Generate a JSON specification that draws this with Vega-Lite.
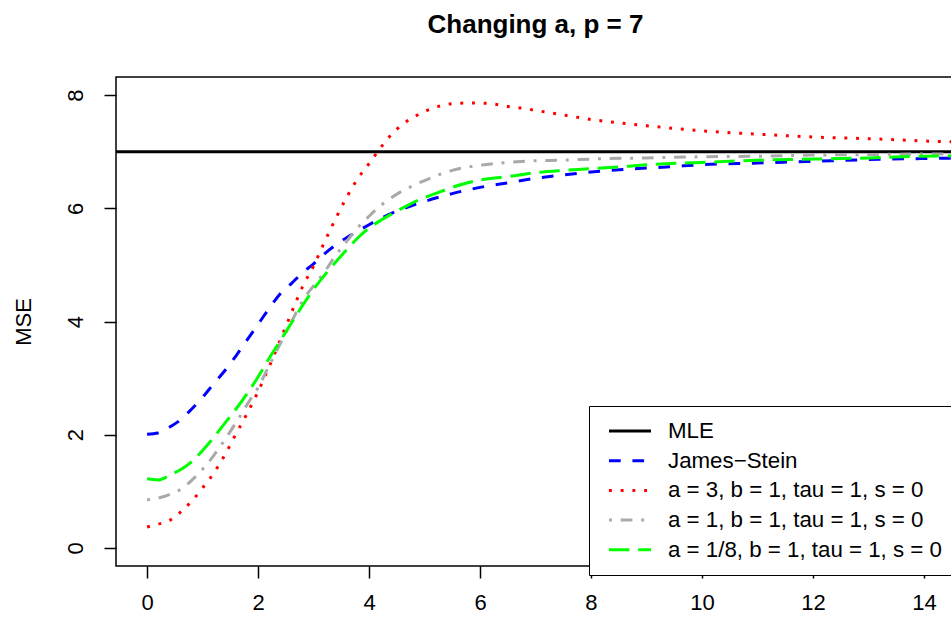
{
  "$schema": "https://vega.github.io/schema/vega-lite/v6.json",
  "width": 839,
  "height": 489,
  "autosize": {"type": "none"},
  "padding": {"left": 116, "top": 77, "right": 0, "bottom": 53},
  "background": "white",
  "title": {"text": "Changing a, p = 7", "font": "Liberation Sans", "fontSize": 26, "fontWeight": "bold", "color": "black", "anchor": "middle", "offset": 39},
  "config": {
    "view": {"stroke": "black", "strokeWidth": 1.5},
    "axis": {"grid": false, "domain": false, "tickColor": "black", "tickWidth": 1.5, "tickSize": 12, "labelFont": "Liberation Sans", "labelFontSize": 22, "labelColor": "black", "titleFont": "Liberation Sans", "titleFontSize": 22, "titleFontWeight": "normal", "titleColor": "black"},
    "legend": {"title": null, "orient": "none", "legendX": 473, "legendY": 329, "symbolType": "M-2,0L2,0", "symbolSize": 441, "symbolStrokeWidth": 3, "symbolOffset": 16, "labelFont": "Liberation Sans", "labelFontSize": 22.3, "labelColor": "black", "labelOffset": 26, "rowPadding": 5.7, "padding": 13, "strokeColor": "black", "fillColor": "white", "labelLimit": 400}
  },
  "datasets": {
    "mle": [{"series": "MLE", "mse": 7}],
    "curves": [
      {"series": "James−Stein", "x": 0, "mse": 2.01},
      {"series": "James−Stein", "x": 0.2, "mse": 2.03},
      {"series": "James−Stein", "x": 0.4, "mse": 2.13},
      {"series": "James−Stein", "x": 0.6, "mse": 2.26},
      {"series": "James−Stein", "x": 0.8, "mse": 2.45},
      {"series": "James−Stein", "x": 1.0, "mse": 2.66},
      {"series": "James−Stein", "x": 1.2, "mse": 2.9},
      {"series": "James−Stein", "x": 1.4, "mse": 3.13},
      {"series": "James−Stein", "x": 1.6, "mse": 3.39},
      {"series": "James−Stein", "x": 1.8, "mse": 3.67},
      {"series": "James−Stein", "x": 2.0, "mse": 3.95},
      {"series": "James−Stein", "x": 2.2, "mse": 4.23},
      {"series": "James−Stein", "x": 2.4, "mse": 4.49},
      {"series": "James−Stein", "x": 2.6, "mse": 4.67},
      {"series": "James−Stein", "x": 2.8, "mse": 4.86},
      {"series": "James−Stein", "x": 3.0, "mse": 5.02},
      {"series": "James−Stein", "x": 3.25, "mse": 5.24},
      {"series": "James−Stein", "x": 3.5, "mse": 5.42},
      {"series": "James−Stein", "x": 3.75, "mse": 5.57},
      {"series": "James−Stein", "x": 4.0, "mse": 5.71},
      {"series": "James−Stein", "x": 4.25, "mse": 5.84},
      {"series": "James−Stein", "x": 4.5, "mse": 5.95},
      {"series": "James−Stein", "x": 4.75, "mse": 6.04},
      {"series": "James−Stein", "x": 5.0, "mse": 6.12},
      {"series": "James−Stein", "x": 5.5, "mse": 6.26},
      {"series": "James−Stein", "x": 6.0, "mse": 6.37},
      {"series": "James−Stein", "x": 6.5, "mse": 6.45},
      {"series": "James−Stein", "x": 7.0, "mse": 6.53},
      {"series": "James−Stein", "x": 7.5, "mse": 6.59},
      {"series": "James−Stein", "x": 8.0, "mse": 6.64},
      {"series": "James−Stein", "x": 8.5, "mse": 6.68},
      {"series": "James−Stein", "x": 9.0, "mse": 6.71},
      {"series": "James−Stein", "x": 9.5, "mse": 6.74},
      {"series": "James−Stein", "x": 10, "mse": 6.77},
      {"series": "James−Stein", "x": 11, "mse": 6.8},
      {"series": "James−Stein", "x": 12, "mse": 6.83},
      {"series": "James−Stein", "x": 13, "mse": 6.86},
      {"series": "James−Stein", "x": 14, "mse": 6.88},
      {"series": "James−Stein", "x": 15, "mse": 6.89},
      {"series": "a = 3, b = 1, tau = 1, s = 0", "x": 0, "mse": 0.37},
      {"series": "a = 3, b = 1, tau = 1, s = 0", "x": 0.2, "mse": 0.42},
      {"series": "a = 3, b = 1, tau = 1, s = 0", "x": 0.4, "mse": 0.48},
      {"series": "a = 3, b = 1, tau = 1, s = 0", "x": 0.6, "mse": 0.63},
      {"series": "a = 3, b = 1, tau = 1, s = 0", "x": 0.8, "mse": 0.82},
      {"series": "a = 3, b = 1, tau = 1, s = 0", "x": 1.0, "mse": 1.06},
      {"series": "a = 3, b = 1, tau = 1, s = 0", "x": 1.2, "mse": 1.32},
      {"series": "a = 3, b = 1, tau = 1, s = 0", "x": 1.4, "mse": 1.64},
      {"series": "a = 3, b = 1, tau = 1, s = 0", "x": 1.6, "mse": 2.01},
      {"series": "a = 3, b = 1, tau = 1, s = 0", "x": 1.8, "mse": 2.37},
      {"series": "a = 3, b = 1, tau = 1, s = 0", "x": 2.0, "mse": 2.76},
      {"series": "a = 3, b = 1, tau = 1, s = 0", "x": 2.2, "mse": 3.2},
      {"series": "a = 3, b = 1, tau = 1, s = 0", "x": 2.4, "mse": 3.67},
      {"series": "a = 3, b = 1, tau = 1, s = 0", "x": 2.6, "mse": 4.15},
      {"series": "a = 3, b = 1, tau = 1, s = 0", "x": 2.8, "mse": 4.61},
      {"series": "a = 3, b = 1, tau = 1, s = 0", "x": 3.0, "mse": 4.98},
      {"series": "a = 3, b = 1, tau = 1, s = 0", "x": 3.2, "mse": 5.41},
      {"series": "a = 3, b = 1, tau = 1, s = 0", "x": 3.4, "mse": 5.82},
      {"series": "a = 3, b = 1, tau = 1, s = 0", "x": 3.6, "mse": 6.2},
      {"series": "a = 3, b = 1, tau = 1, s = 0", "x": 3.8, "mse": 6.53},
      {"series": "a = 3, b = 1, tau = 1, s = 0", "x": 4.0, "mse": 6.79},
      {"series": "a = 3, b = 1, tau = 1, s = 0", "x": 4.2, "mse": 7.06},
      {"series": "a = 3, b = 1, tau = 1, s = 0", "x": 4.4, "mse": 7.3},
      {"series": "a = 3, b = 1, tau = 1, s = 0", "x": 4.6, "mse": 7.48},
      {"series": "a = 3, b = 1, tau = 1, s = 0", "x": 4.8, "mse": 7.61},
      {"series": "a = 3, b = 1, tau = 1, s = 0", "x": 5.0, "mse": 7.71},
      {"series": "a = 3, b = 1, tau = 1, s = 0", "x": 5.25, "mse": 7.8},
      {"series": "a = 3, b = 1, tau = 1, s = 0", "x": 5.5, "mse": 7.85},
      {"series": "a = 3, b = 1, tau = 1, s = 0", "x": 5.75, "mse": 7.86},
      {"series": "a = 3, b = 1, tau = 1, s = 0", "x": 6.0, "mse": 7.86},
      {"series": "a = 3, b = 1, tau = 1, s = 0", "x": 6.25, "mse": 7.84},
      {"series": "a = 3, b = 1, tau = 1, s = 0", "x": 6.5, "mse": 7.8},
      {"series": "a = 3, b = 1, tau = 1, s = 0", "x": 6.75, "mse": 7.77},
      {"series": "a = 3, b = 1, tau = 1, s = 0", "x": 7.0, "mse": 7.73},
      {"series": "a = 3, b = 1, tau = 1, s = 0", "x": 7.5, "mse": 7.65},
      {"series": "a = 3, b = 1, tau = 1, s = 0", "x": 8.0, "mse": 7.57},
      {"series": "a = 3, b = 1, tau = 1, s = 0", "x": 8.5, "mse": 7.51},
      {"series": "a = 3, b = 1, tau = 1, s = 0", "x": 9.0, "mse": 7.46},
      {"series": "a = 3, b = 1, tau = 1, s = 0", "x": 9.5, "mse": 7.41},
      {"series": "a = 3, b = 1, tau = 1, s = 0", "x": 10, "mse": 7.37},
      {"series": "a = 3, b = 1, tau = 1, s = 0", "x": 11, "mse": 7.31},
      {"series": "a = 3, b = 1, tau = 1, s = 0", "x": 12, "mse": 7.26},
      {"series": "a = 3, b = 1, tau = 1, s = 0", "x": 13, "mse": 7.23},
      {"series": "a = 3, b = 1, tau = 1, s = 0", "x": 14, "mse": 7.19},
      {"series": "a = 3, b = 1, tau = 1, s = 0", "x": 15, "mse": 7.16},
      {"series": "a = 1, b = 1, tau = 1, s = 0", "x": 0, "mse": 0.85},
      {"series": "a = 1, b = 1, tau = 1, s = 0", "x": 0.2, "mse": 0.88},
      {"series": "a = 1, b = 1, tau = 1, s = 0", "x": 0.4, "mse": 0.94},
      {"series": "a = 1, b = 1, tau = 1, s = 0", "x": 0.6, "mse": 1.03},
      {"series": "a = 1, b = 1, tau = 1, s = 0", "x": 0.8, "mse": 1.19},
      {"series": "a = 1, b = 1, tau = 1, s = 0", "x": 1.0, "mse": 1.39},
      {"series": "a = 1, b = 1, tau = 1, s = 0", "x": 1.2, "mse": 1.63},
      {"series": "a = 1, b = 1, tau = 1, s = 0", "x": 1.4, "mse": 1.91},
      {"series": "a = 1, b = 1, tau = 1, s = 0", "x": 1.6, "mse": 2.21},
      {"series": "a = 1, b = 1, tau = 1, s = 0", "x": 1.8, "mse": 2.53},
      {"series": "a = 1, b = 1, tau = 1, s = 0", "x": 2.0, "mse": 2.83},
      {"series": "a = 1, b = 1, tau = 1, s = 0", "x": 2.2, "mse": 3.22},
      {"series": "a = 1, b = 1, tau = 1, s = 0", "x": 2.4, "mse": 3.61},
      {"series": "a = 1, b = 1, tau = 1, s = 0", "x": 2.6, "mse": 3.99},
      {"series": "a = 1, b = 1, tau = 1, s = 0", "x": 2.8, "mse": 4.36},
      {"series": "a = 1, b = 1, tau = 1, s = 0", "x": 3.0, "mse": 4.63},
      {"series": "a = 1, b = 1, tau = 1, s = 0", "x": 3.2, "mse": 4.88},
      {"series": "a = 1, b = 1, tau = 1, s = 0", "x": 3.4, "mse": 5.17},
      {"series": "a = 1, b = 1, tau = 1, s = 0", "x": 3.6, "mse": 5.42},
      {"series": "a = 1, b = 1, tau = 1, s = 0", "x": 3.8, "mse": 5.66},
      {"series": "a = 1, b = 1, tau = 1, s = 0", "x": 4.0, "mse": 5.86},
      {"series": "a = 1, b = 1, tau = 1, s = 0", "x": 4.25, "mse": 6.08},
      {"series": "a = 1, b = 1, tau = 1, s = 0", "x": 4.5, "mse": 6.25},
      {"series": "a = 1, b = 1, tau = 1, s = 0", "x": 4.75, "mse": 6.38},
      {"series": "a = 1, b = 1, tau = 1, s = 0", "x": 5.0, "mse": 6.49},
      {"series": "a = 1, b = 1, tau = 1, s = 0", "x": 5.25, "mse": 6.59},
      {"series": "a = 1, b = 1, tau = 1, s = 0", "x": 5.5, "mse": 6.67},
      {"series": "a = 1, b = 1, tau = 1, s = 0", "x": 6.0, "mse": 6.76},
      {"series": "a = 1, b = 1, tau = 1, s = 0", "x": 6.5, "mse": 6.81},
      {"series": "a = 1, b = 1, tau = 1, s = 0", "x": 7.0, "mse": 6.84},
      {"series": "a = 1, b = 1, tau = 1, s = 0", "x": 7.5, "mse": 6.85},
      {"series": "a = 1, b = 1, tau = 1, s = 0", "x": 8.0, "mse": 6.87},
      {"series": "a = 1, b = 1, tau = 1, s = 0", "x": 9.0, "mse": 6.89},
      {"series": "a = 1, b = 1, tau = 1, s = 0", "x": 10, "mse": 6.91},
      {"series": "a = 1, b = 1, tau = 1, s = 0", "x": 11, "mse": 6.92},
      {"series": "a = 1, b = 1, tau = 1, s = 0", "x": 12, "mse": 6.94},
      {"series": "a = 1, b = 1, tau = 1, s = 0", "x": 13, "mse": 6.95},
      {"series": "a = 1, b = 1, tau = 1, s = 0", "x": 14, "mse": 6.96},
      {"series": "a = 1, b = 1, tau = 1, s = 0", "x": 15, "mse": 6.96},
      {"series": "a = 1/8, b = 1, tau = 1, s = 0", "x": 0, "mse": 1.22},
      {"series": "a = 1/8, b = 1, tau = 1, s = 0", "x": 0.2, "mse": 1.2},
      {"series": "a = 1/8, b = 1, tau = 1, s = 0", "x": 0.4, "mse": 1.28},
      {"series": "a = 1/8, b = 1, tau = 1, s = 0", "x": 0.6, "mse": 1.38},
      {"series": "a = 1/8, b = 1, tau = 1, s = 0", "x": 0.8, "mse": 1.52},
      {"series": "a = 1/8, b = 1, tau = 1, s = 0", "x": 1.0, "mse": 1.72},
      {"series": "a = 1/8, b = 1, tau = 1, s = 0", "x": 1.2, "mse": 1.95},
      {"series": "a = 1/8, b = 1, tau = 1, s = 0", "x": 1.4, "mse": 2.2},
      {"series": "a = 1/8, b = 1, tau = 1, s = 0", "x": 1.6, "mse": 2.45},
      {"series": "a = 1/8, b = 1, tau = 1, s = 0", "x": 1.8, "mse": 2.72},
      {"series": "a = 1/8, b = 1, tau = 1, s = 0", "x": 2.0, "mse": 3.02},
      {"series": "a = 1/8, b = 1, tau = 1, s = 0", "x": 2.2, "mse": 3.35},
      {"series": "a = 1/8, b = 1, tau = 1, s = 0", "x": 2.4, "mse": 3.66},
      {"series": "a = 1/8, b = 1, tau = 1, s = 0", "x": 2.6, "mse": 3.97},
      {"series": "a = 1/8, b = 1, tau = 1, s = 0", "x": 2.8, "mse": 4.28},
      {"series": "a = 1/8, b = 1, tau = 1, s = 0", "x": 3.0, "mse": 4.57},
      {"series": "a = 1/8, b = 1, tau = 1, s = 0", "x": 3.2, "mse": 4.82},
      {"series": "a = 1/8, b = 1, tau = 1, s = 0", "x": 3.4, "mse": 5.05},
      {"series": "a = 1/8, b = 1, tau = 1, s = 0", "x": 3.6, "mse": 5.27},
      {"series": "a = 1/8, b = 1, tau = 1, s = 0", "x": 3.8, "mse": 5.48},
      {"series": "a = 1/8, b = 1, tau = 1, s = 0", "x": 4.0, "mse": 5.65},
      {"series": "a = 1/8, b = 1, tau = 1, s = 0", "x": 4.25, "mse": 5.81},
      {"series": "a = 1/8, b = 1, tau = 1, s = 0", "x": 4.5, "mse": 5.95},
      {"series": "a = 1/8, b = 1, tau = 1, s = 0", "x": 4.75, "mse": 6.08},
      {"series": "a = 1/8, b = 1, tau = 1, s = 0", "x": 5.0, "mse": 6.19},
      {"series": "a = 1/8, b = 1, tau = 1, s = 0", "x": 5.25, "mse": 6.28},
      {"series": "a = 1/8, b = 1, tau = 1, s = 0", "x": 5.5, "mse": 6.37},
      {"series": "a = 1/8, b = 1, tau = 1, s = 0", "x": 6.0, "mse": 6.5},
      {"series": "a = 1/8, b = 1, tau = 1, s = 0", "x": 6.5, "mse": 6.56},
      {"series": "a = 1/8, b = 1, tau = 1, s = 0", "x": 7.0, "mse": 6.63},
      {"series": "a = 1/8, b = 1, tau = 1, s = 0", "x": 7.5, "mse": 6.67},
      {"series": "a = 1/8, b = 1, tau = 1, s = 0", "x": 8.0, "mse": 6.7},
      {"series": "a = 1/8, b = 1, tau = 1, s = 0", "x": 8.5, "mse": 6.73},
      {"series": "a = 1/8, b = 1, tau = 1, s = 0", "x": 9.0, "mse": 6.77},
      {"series": "a = 1/8, b = 1, tau = 1, s = 0", "x": 10, "mse": 6.81},
      {"series": "a = 1/8, b = 1, tau = 1, s = 0", "x": 11, "mse": 6.85},
      {"series": "a = 1/8, b = 1, tau = 1, s = 0", "x": 12, "mse": 6.87},
      {"series": "a = 1/8, b = 1, tau = 1, s = 0", "x": 13, "mse": 6.89},
      {"series": "a = 1/8, b = 1, tau = 1, s = 0", "x": 14, "mse": 6.92},
      {"series": "a = 1/8, b = 1, tau = 1, s = 0", "x": 15, "mse": 6.93}
    ]
  },
  "encoding": {
    "y": {"field": "mse", "type": "quantitative", "title": "MSE",
      "scale": {"domain": [-0.32, 8.32], "nice": false, "zero": false},
      "axis": {"values": [0, 2, 4, 6, 8], "labelAngle": -90, "labelAlign": "center", "labelBaseline": "middle", "labelPadding": 29, "titlePadding": 29}},
    "color": {"field": "series", "type": "nominal",
      "scale": {"domain": ["MLE", "James−Stein", "a = 3, b = 1, tau = 1, s = 0", "a = 1, b = 1, tau = 1, s = 0", "a = 1/8, b = 1, tau = 1, s = 0"],
                "range": ["#000000", "#0000FF", "#FF0000", "#A9A9A9", "#00FF00"]}},
    "strokeDash": {"field": "series", "type": "nominal",
      "scale": {"domain": ["MLE", "James−Stein", "a = 3, b = 1, tau = 1, s = 0", "a = 1, b = 1, tau = 1, s = 0", "a = 1/8, b = 1, tau = 1, s = 0"],
                "range": [[1, 0], [11.7, 11.7], [2.9, 8.8], [2.9, 8.8, 11.7, 8.8], [20.4, 8.8]]}}
  },
  "layer": [
    {
      "data": {"name": "mle"},
      "mark": {"type": "rule", "strokeWidth": 3, "clip": true},
      "encoding": {}
    },
    {
      "data": {"name": "curves"},
      "mark": {"type": "line", "strokeWidth": 3, "clip": true, "interpolate": "monotone"},
      "encoding": {
        "x": {"field": "x", "type": "quantitative", "title": null,
          "scale": {"domain": [-0.56, 14.56], "nice": false, "zero": false},
          "axis": {"values": [0, 2, 4, 6, 8, 10, 12, 14], "labelPadding": 14}}
      }
    }
  ]
}
